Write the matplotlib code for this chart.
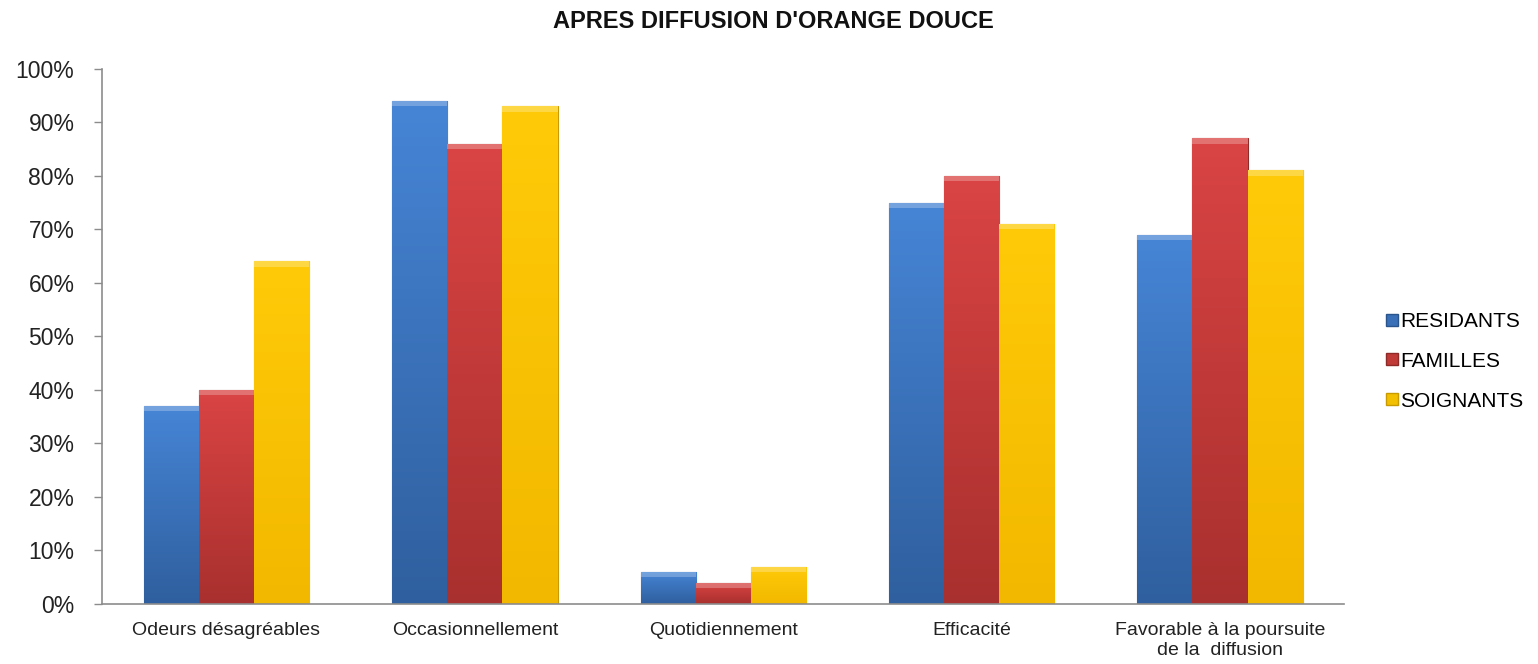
import numpy as np
import matplotlib
matplotlib.use("Agg")
import matplotlib.pyplot as plt
from matplotlib.colors import LinearSegmentedColormap
from matplotlib.lines import Line2D

plt.rcParams['font.family'] = ['Liberation Sans', 'DejaVu Sans']

categories = ["Odeurs désagréables", "Occasionnellement", "Quotidiennement",
              "Efficacité", "Favorable à la poursuite\nde la  diffusion"]
series_names = ["RESIDANTS", "FAMILLES", "SOIGNANTS"]
residants = [37, 94, 6, 75, 69]
familles = [40, 86, 4, 80, 87]
soignants = [64, 93, 7, 71, 81]
yticks = [0, 10, 20, 30, 40, 50, 60, 70, 80, 90, 100]

series = [residants, familles, soignants]
top_colors = ["#4685D6", "#DA4444", "#FFCB08"]
bot_colors = ["#2F5F9E", "#A8302E", "#F2B800"]
edge_colors = ["#2A558C", "#8E2A28", "#C99A00"]
legend_colors = ["#3A70B8", "#C03A38", "#F2C000"]

fig = plt.figure(figsize=(15.38, 6.64), dpi=100)
ax = fig.add_axes([0.0665, 0.0904, 0.8075, 0.806])

x = np.arange(len(categories))
w = 0.222
for i, vals in enumerate(series):
    bars = ax.bar(x + (i - 1) * w, vals, width=w, color=legend_colors[i],
                  edgecolor=edge_colors[i], linewidth=0.8, zorder=2)
    cmap = LinearSegmentedColormap.from_list("g%d" % i, [bot_colors[i], top_colors[i]])
    grad = np.linspace(0, 1, 256).reshape(-1, 1)
    for b in bars:
        x0, y0 = b.get_x(), b.get_y()
        bw, bh = b.get_width(), b.get_height()
        im = ax.imshow(grad, cmap=cmap, origin='lower', aspect='auto',
                       extent=[x0, x0 + bw, y0, y0 + bh], zorder=2.5,
                       interpolation='bilinear')
        im.set_clip_path(b)
        ax.fill_between([x0, x0 + bw], [y0 + bh, y0 + bh],
                        [max(y0 + bh - 1.0, y0)] * 2, color='white', alpha=0.25,
                        zorder=2.6, linewidth=0)

ax.set_xlim(-0.5, len(categories) - 0.5)
ax.set_ylim(0, 100)
ax.set_yticks(yticks)
ax.set_yticklabels(["%d%%" % t for t in yticks], fontsize=16.5, color="#222222")
ax.set_xticks(x)
ax.set_xticklabels(categories, fontsize=14, color="#222222", linespacing=1.25)
ax.tick_params(axis='x', length=0, pad=13)
ax.tick_params(axis='y', length=6, width=1, color="#8C8C8C", direction='out', pad=14)
for s in ['top', 'right']:
    ax.spines[s].set_visible(False)
for s in ['left', 'bottom']:
    ax.spines[s].set_color("#8C8C8C")
    ax.spines[s].set_linewidth(1.2)

fig.text(0.503, 0.968, "APRES DIFFUSION D'ORANGE DOUCE", ha='center', va='center',
         fontsize=17, fontweight='bold', color="#111111")

handles = [Line2D([0], [0], marker='s', linestyle='none', markersize=8,
                  markerfacecolor=legend_colors[i], markeredgecolor=edge_colors[i])
           for i in range(3)]
fig.legend(handles, series_names, loc='center left', bbox_to_anchor=(0.894, 0.456),
           frameon=False, fontsize=15, handletextpad=0.0, labelspacing=1.0,
           handlelength=0.8, borderaxespad=0)

fig.savefig("out.png", dpi=100)
